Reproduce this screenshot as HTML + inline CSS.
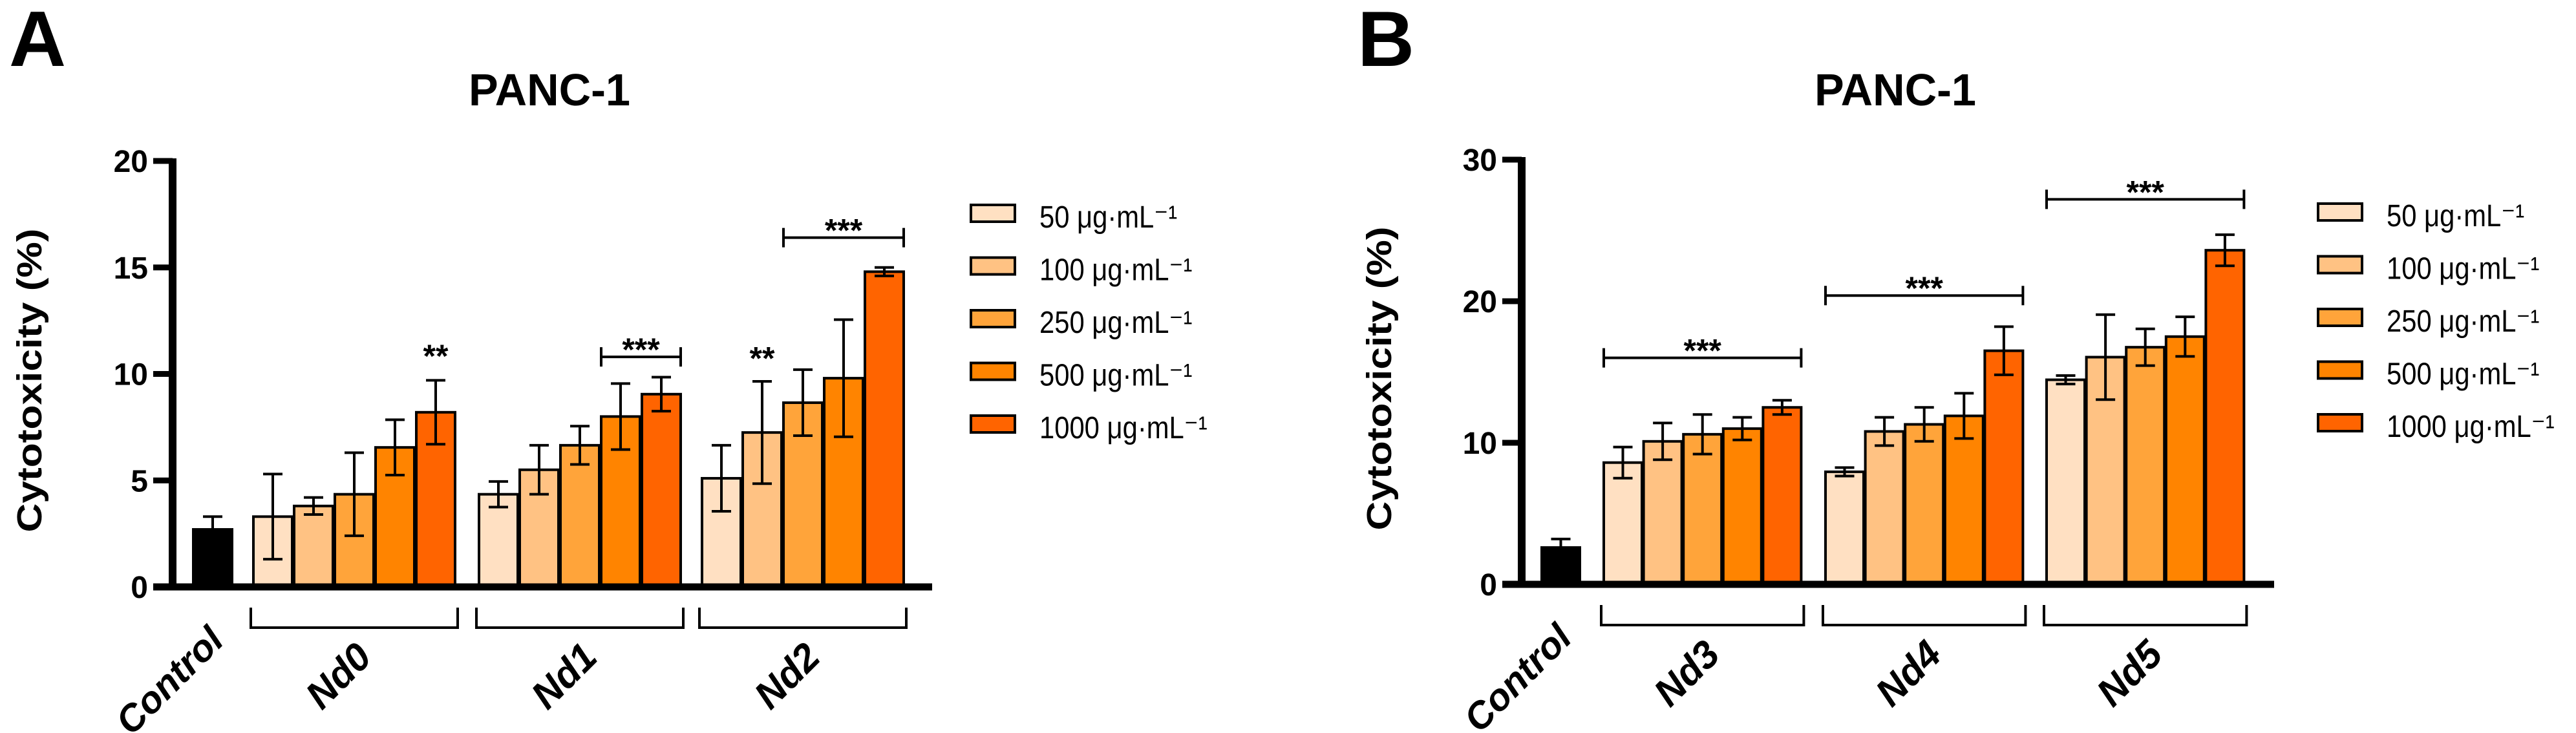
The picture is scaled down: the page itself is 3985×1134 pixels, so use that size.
<!DOCTYPE html>
<html><head><meta charset="utf-8"><style>
html,body{margin:0;padding:0;background:#fff;}
svg{display:block;}
text{font-family:"Liberation Sans",Arial,sans-serif;}
</style></head><body>
<svg id="fig" width="3985" height="1134" viewBox="0 0 3985 1134" xmlns="http://www.w3.org/2000/svg">
<text x="14" y="102" font-size="122" font-weight="bold">A</text>
<text x="2100" y="102" font-size="122" font-weight="bold">B</text>
<g id="panelA"></g>
<g id="panelB"></g>
</svg>
<script>
// ---- shared data ----
const seriesLabels = ["50 μg·mL⁻¹","100 μg·mL⁻¹","250 μg·mL⁻¹","500 μg·mL⁻¹","1000 μg·mL⁻¹"];
const seriesColors = ["#FFE0C2","#FFC283","#FFA43A","#FF8400","#FF6400"];
// ---- panel A data ----
const groupsA = ["Nd0","Nd1","Nd2"];
const controlA = 2.7, controlErrA = 0.6;
const valuesA = [[3.3,3.8,4.35,6.55,8.2],[4.35,5.5,6.65,8.0,9.05],[5.1,7.25,8.65,9.8,14.8]];
const errorsA = [[2.0,0.4,1.95,1.3,1.5],[0.6,1.15,0.9,1.55,0.8],[1.55,2.4,1.55,2.75,0.2]];
const ticksA = [0,5,10,15,20];
// significance: [group, firstBar, lastBar, yValue, label, showLine]
const sigA = [[0,4,4,10.5,"**",false],[1,3,4,10.8,"***",true],[2,1,1,10.4,"**",false],[2,2,4,16.4,"***",true]];
// ---- panel B data ----
const groupsB = ["Nd3","Nd4","Nd5"];
const controlB = 2.6, controlErrB = 0.6;
const valuesB = [[8.6,10.1,10.6,11.0,12.5],[7.95,10.8,11.3,11.9,16.5],[14.45,16.05,16.75,17.5,23.6]];
const errorsB = [[1.1,1.3,1.4,0.8,0.5],[0.3,1.0,1.2,1.6,1.7],[0.3,3.0,1.3,1.4,1.1]];
const ticksB = [0,10,20,30];
const sigB = [[0,0,4,16.0,"***",true],[1,0,4,20.4,"***",true],[2,0,4,27.2,"***",true]];

const NS="http://www.w3.org/2000/svg";
function mk(parent,tag,attrs,text){const e=document.createElementNS(NS,tag);for(const k in attrs)e.setAttribute(k,attrs[k]);if(text!==undefined)e.textContent=text;parent.appendChild(e);return e;}

function drawPanel(g,cfg){
  const y=v=>cfg.zeroY-(v/cfg.yMax)*(cfg.zeroY-cfg.topY);
  const barX=(gi,si)=>cfg.groupStarts[gi]+si*cfg.step;
  let t=mk(g,"text",{x:cfg.titleX,y:163,"font-size":70,"font-weight":"bold","text-anchor":"middle",textLength:250,lengthAdjust:"spacingAndGlyphs"},"PANC-1");
  
  
  t=mk(g,"text",{x:0,y:0,"font-size":54,"font-weight":"bold","text-anchor":"middle",transform:`translate(${cfg.yTitleX},${(cfg.topY+cfg.zeroY)/2+10}) rotate(-90)`,textLength:470,lengthAdjust:"spacingAndGlyphs"},"Cytotoxicity (%)");
  
  
  const ctl=mk(g,"rect",{x:cfg.controlX,y:y(cfg.control),width:cfg.barW,height:cfg.zeroY-y(cfg.control),fill:"#000",stroke:"#000","stroke-width":4});
  
  
  const drawErr=(cx,v,e,nm)=>{
    const eg=mk(g,"g",{stroke:"#000","stroke-width":4,fill:"none"});
    
    
    mk(eg,"line",{x1:cx,x2:cx,y1:y(v-e),y2:y(v+e)});
    mk(eg,"line",{x1:cx-15,x2:cx+15,y1:y(v+e),y2:y(v+e)});
    mk(eg,"line",{x1:cx-15,x2:cx+15,y1:y(v-e),y2:y(v-e)});
  };
  drawErr(cfg.controlX+cfg.barW/2,cfg.control,cfg.controlErr,'error-bar-control');
  cfg.values.forEach((row,gi)=>row.forEach((v,si)=>{
    const r=mk(g,"rect",{x:barX(gi,si),y:y(v),width:cfg.barW,height:cfg.zeroY-y(v),fill:seriesColors[si],stroke:"#000","stroke-width":4});
    
    
    drawErr(barX(gi,si)+cfg.barW/2,v,cfg.errors[gi][si],'error-bar-'+cfg.groups[gi].toLowerCase()+'-'+si);
  }));
  let a=mk(g,"line",{x1:cfg.axisX,x2:cfg.axisX,y1:cfg.topY-4,y2:cfg.zeroY+5,stroke:"#000","stroke-width":12});
  
  
  a=mk(g,"line",{x1:cfg.axisX-30,x2:cfg.axisEnd,y1:cfg.zeroY,y2:cfg.zeroY,stroke:"#000","stroke-width":11});
  
  
  cfg.ticks.forEach(tv=>{
    const tk=mk(g,"line",{x1:cfg.axisX-30,x2:cfg.axisX,y1:y(tv),y2:y(tv),stroke:"#000","stroke-width":9});
    
    
    const tl=mk(g,"text",{x:cfg.axisX-38,y:y(tv)+17,"font-size":48,"font-weight":"bold","text-anchor":"end"},String(tv));
    
    
  });
  cfg.groups.forEach((gn,gi)=>{
    const x0=cfg.groupStarts[gi]-4,x1=cfg.groupStarts[gi]+4*cfg.step+cfg.barW+4;
    const b=mk(g,"path",{d:`M${x0},${cfg.zeroY+32}V${cfg.zeroY+63}H${x1}V${cfg.zeroY+32}`,stroke:"#000","stroke-width":4,fill:"none"});
    
    
    const cx=(x0+x1)/2+30;
    const l=mk(g,"text",{x:0,y:0,"font-size":60,"font-weight":"bold","font-style":"italic","text-anchor":"end",transform:`translate(${cx},${cfg.zeroY+112}) rotate(-45)`},gn);
    
    
  });
  const cl=mk(g,"text",{x:0,y:0,"font-size":58,"font-weight":"bold","font-style":"italic","text-anchor":"end",transform:`translate(${cfg.controlX+cfg.barW/2+20},${cfg.zeroY+86}) rotate(-45)`},"Control");
  
  
  cfg.sig.forEach(s=>{
    const [gi,a0,a1,v,lab,line]=s;
    const xs=barX(gi,a0),xe=barX(gi,a1)+cfg.barW;
    const sy=y(v);
    if(line){
      const p=mk(g,"path",{d:`M${xs},${sy-15}V${sy+15}M${xs},${sy}H${xe}M${xe},${sy-15}V${sy+15}`,stroke:"#000","stroke-width":4,fill:"none"});
      
      
    }
    const st=mk(g,"text",{x:(xs+xe)/2,y:sy+6,"font-size":50,"font-weight":"bold","text-anchor":"middle"},lab);
    
    
  });
  seriesLabels.forEach((lab,si)=>{
    const ly=cfg.legendY+si*81.5;
    const lg=mk(g,"g",{});
    
    
    mk(lg,"rect",{x:cfg.legendX,y:ly,width:68,height:26,fill:seriesColors[si],stroke:"#000","stroke-width":4});
    const tx=mk(lg,"text",{x:cfg.legendX+106,y:ly+35,"font-size":48},lab);
    const w=tx.getComputedTextLength();
    tx.setAttribute('textLength',(w*0.87).toFixed(1));
    tx.setAttribute('lengthAdjust','spacingAndGlyphs');
  });
}

drawPanel(document.getElementById('panelA'),{
  values:valuesA,errors:errorsA,groups:groupsA,control:controlA,controlErr:controlErrA,ticks:ticksA,sig:sigA,
  yMax:20,topY:249,zeroY:908,axisX:267,axisEnd:1442,controlX:299,barW:60,step:63,
  groupStarts:[392,741,1086],titleX:850,yTitleX:64,legendX:1502,legendY:317
});
drawPanel(document.getElementById('panelB'),{
  values:valuesB,errors:errorsB,groups:groupsB,control:controlB,controlErr:controlErrB,ticks:ticksB,sig:sigB,
  yMax:30,topY:247,zeroY:904,axisX:2354,axisEnd:3518,controlX:2385,barW:59,step:61.6,
  groupStarts:[2481,2824,3166],titleX:2932,yTitleX:2152,legendX:3586,legendY:315
});
</script>
</body></html>
